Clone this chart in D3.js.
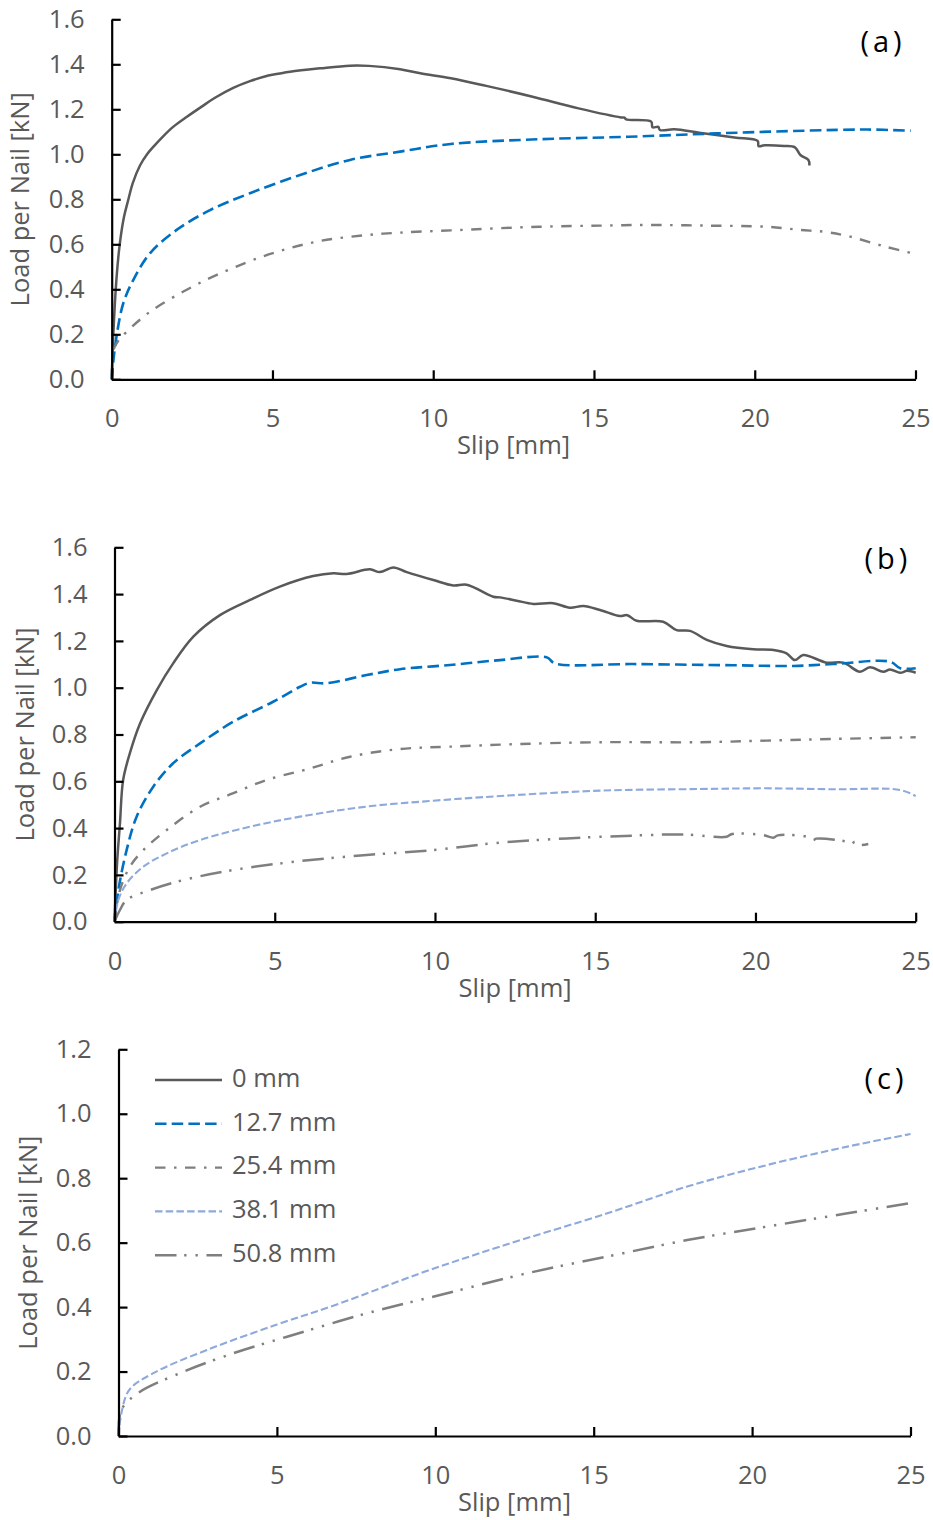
<!DOCTYPE html>
<html>
<head>
<meta charset="utf-8">
<script src="https://cdn.jsdelivr.net/npm/d3@7"></script>
<style>
  html, body { margin: 0; padding: 0; background: #fff; }
  svg { display: block; }
  text { font-family: "Open Sans", "Noto Sans", sans-serif; }
</style>
</head>
<body>
<svg id="chart" width="933" height="1520"></svg>
<script>
// ---- Load–slip curves (slip in mm, load per nail in kN) ----
const seriesNames = ["0 mm", "12.7 mm", "25.4 mm", "38.1 mm", "50.8 mm"];
const xTicks = [0, 5, 10, 15, 20, 25];
const yTicksAB = [0, 0.2, 0.4, 0.6, 0.8, 1.0, 1.2, 1.4, 1.6];
const yTicksC = [0, 0.2, 0.4, 0.6, 0.8, 1.0, 1.2];
const panelLabels = ["(a)", "(b)", "(c)"];

// Panel (a)
const a_0mm = [[0,0],[0.05,0.2],[0.15,0.45],[0.25,0.6],[0.38,0.72],[0.52,0.8],[0.65,0.87],[0.88,0.95],[1.1,1.0],[1.3,1.034],[1.6,1.08],[1.92,1.123],[2.34,1.167],[2.8,1.212],[3.2,1.25],[3.78,1.295],[4.3,1.325],[4.82,1.348],[4.95,1.352],[5.55,1.367],[6.48,1.382],[7.41,1.394],[8.0,1.393],[8.97,1.378],[9.6,1.36],[10.55,1.338],[11.65,1.304],[13.09,1.256],[14.52,1.204],[15.84,1.164],[15.95,1.163],[16.0,1.155],[16.78,1.145],[16.82,1.12],[17.0,1.122],[17.05,1.108],[17.5,1.111],[18.27,1.096],[19.37,1.075],[20.09,1.06],[20.12,1.036],[20.3,1.04],[20.92,1.037],[21.25,1.031],[21.42,0.997],[21.67,0.975],[21.7,0.95]];
const a_12_7mm = [[0,0],[0.05,0.08],[0.16,0.2],[0.36,0.338],[0.67,0.441],[1.19,0.56],[2.02,0.664],[3.06,0.752],[4.3,0.827],[5.86,0.908],[7.41,0.975],[8.97,1.012],[10.55,1.046],[13.31,1.067],[16.07,1.078],[18.83,1.093],[21.58,1.105],[23.5,1.11],[24.85,1.105]];
const a_25_4mm = [[0,0],[0.05,0.13],[0.2,0.17],[0.47,0.212],[1.19,0.3],[2.23,0.39],[3.27,0.464],[4.82,0.552],[6.38,0.612],[7.93,0.641],[8.97,0.652],[10.55,0.662],[13.31,0.678],[15.19,0.683],[16.62,0.686],[18.5,0.683],[20.37,0.678],[21.41,0.664],[22.2,0.655],[22.97,0.634],[24.0,0.592],[25,0.557]];

// Panel (b)
const b_0mm = [[0,0],[0.08,0.25],[0.17,0.42],[0.27,0.606],[0.48,0.72],[0.8,0.848],[1.32,0.99],[1.83,1.104],[2.46,1.218],[3.29,1.31],[4.23,1.375],[5.16,1.432],[6.2,1.477],[6.83,1.489],[7.24,1.486],[7.97,1.506],[8.28,1.494],[8.7,1.514],[9.12,1.494],[9.95,1.46],[10.57,1.437],[10.99,1.44],[11.82,1.389],[12.03,1.386],[12.55,1.372],[13.07,1.358],[13.69,1.361],[14.21,1.342],[14.63,1.349],[15.15,1.332],[15.77,1.306],[16.0,1.31],[16.29,1.286],[17.12,1.282],[17.54,1.246],[17.96,1.243],[18.48,1.204],[19.1,1.178],[19.93,1.164],[20.56,1.161],[20.97,1.147],[21.23,1.118],[21.49,1.14],[22.22,1.107],[22.74,1.107],[23.26,1.068],[23.57,1.087],[23.99,1.068],[24.2,1.078],[24.52,1.064],[24.73,1.072],[25,1.064]];
const b_12_7mm = [[0,0],[0.12,0.135],[0.38,0.307],[0.69,0.449],[1.21,0.577],[1.83,0.677],[2.67,0.762],[3.71,0.855],[4.95,0.94],[5.79,1.004],[6.1,1.021],[6.62,1.019],[7.87,1.054],[8.91,1.079],[10.47,1.097],[12.03,1.118],[13.48,1.13],[13.74,1.104],[16.19,1.101],[19.3,1.096],[21.18,1.093],[22.43,1.101],[24.2,1.111],[24.52,1.083],[25,1.083]];
const b_25_4mm = [[0,0],[0.17,0.135],[0.48,0.235],[0.9,0.306],[1.63,0.392],[2.67,0.491],[3.71,0.549],[4.75,0.606],[6.0,0.651],[7.35,0.705],[8.91,0.738],[10.47,0.748],[12.55,0.759],[15.15,0.767],[18.27,0.767],[20.35,0.774],[22.43,0.781],[25,0.788]];
const b_38_1mm = [[0,0],[0.12,0.093],[0.38,0.164],[0.9,0.235],[1.63,0.292],[2.67,0.349],[4.23,0.406],[5.79,0.449],[7.87,0.492],[9.95,0.517],[12.03,0.537],[15.15,0.56],[18.27,0.567],[20.35,0.57],[22.43,0.566],[24.52,0.563],[25,0.537]];
const b_50_8mm = [[0,0],[0.17,0.05],[0.38,0.093],[1.11,0.135],[2.15,0.178],[3.71,0.221],[5.79,0.259],[7.87,0.285],[9.95,0.306],[12.03,0.338],[14.11,0.356],[16.19,0.368],[17.75,0.373],[19.1,0.363],[19.27,0.375],[20.24,0.37],[20.56,0.359],[20.7,0.369],[21.6,0.363],[21.8,0.349],[21.9,0.355],[22.85,0.342],[23.0,0.332],[23.1,0.342],[23.2,0.328],[23.52,0.332]];

// Panel (c)
const c_38_1mm = [[0,0],[0.09,0.07],[0.34,0.143],[1.1,0.195],[2.79,0.267],[4.98,0.345],[7.0,0.412],[9.53,0.505],[12.05,0.588],[15.43,0.691],[17.95,0.774],[20.48,0.841],[23.01,0.898],[25,0.937]];
const c_50_8mm = [[0,0],[0.09,0.081],[0.6,0.132],[1.94,0.195],[3.63,0.257],[5.32,0.308],[7.85,0.381],[10.37,0.443],[12.9,0.505],[15.43,0.557],[17.95,0.608],[20.48,0.65],[23.01,0.691],[24.95,0.722]];

// ---- Line styles per series ----
const styles = {
  "0 mm":    { color: "#595959", width: 2.5, dash: null },
  "12.7 mm": { color: "#0070C0", width: 2.6, dash: "11.5,5.2" },
  "25.4 mm": { color: "#7F7F7F", width: 2.4, dash: "10.5,8.5,2.5,8.5" },
  "38.1 mm": { color: "#8EA9DB", width: 2.1, dash: "7.5,3.2" },
  "50.8 mm": { color: "#7F7F7F", width: 2.5, dash: "21.5,7.7,2.3,9,2.3,8.7" }
};

const panels = [
  { label: panelLabels[0], x0: 111.7, x1: 915.5, yBottom: 379.3, yTop: 19.3, yMax: 1.6, yTicks: yTicksAB,
    yTitleX: 22, labelPos: [883, 44],
    series: [["0 mm", a_0mm], ["12.7 mm", a_12_7mm], ["25.4 mm", a_25_4mm]] },
  { label: panelLabels[1], x0: 114.5, x1: 915.7, yBottom: 921.7, yTop: 547.3, yMax: 1.6, yTicks: yTicksAB,
    yTitleX: 27, labelPos: [888, 561],
    series: [["0 mm", b_0mm], ["12.7 mm", b_12_7mm], ["25.4 mm", b_25_4mm], ["38.1 mm", b_38_1mm], ["50.8 mm", b_50_8mm]] },
  { label: panelLabels[2], x0: 118.5, x1: 910.5, yBottom: 1436, yTop: 1049.3, yMax: 1.2, yTicks: yTicksC,
    yTitleX: 30, labelPos: [886, 1081],
    series: [["38.1 mm", c_38_1mm], ["50.8 mm", c_50_8mm]], legend: true }
];

const svg = d3.select("#chart");
const textColor = "#595959";
const fontSize = "25.5px";

panels.forEach(p => {
  const x = d3.scaleLinear().domain([0, 25]).range([p.x0, p.x1]);
  const y = d3.scaleLinear().domain([0, p.yMax]).range([p.yBottom, p.yTop]);
  const g = svg.append("g");

  // curves
  const line = d3.line().x(d => x(d[0])).y(d => y(d[1])).curve(d3.curveCatmullRom.alpha(0.5));
  p.series.forEach(([name, data]) => {
    const s = styles[name];
    g.append("path")
      .datum(data)
      .attr("d", line)
      .attr("fill", "none")
      .attr("stroke", s.color)
      .attr("stroke-width", s.width)
      .attr("stroke-dasharray", s.dash)
      .attr("stroke-linejoin", "round");
  });

  // axes, ticks pointing into the plot
  const xAxis = d3.axisBottom(x).tickValues(xTicks).tickFormat(d3.format("d"))
    .tickSizeInner(-9).tickSizeOuter(0).tickPadding(30);
  const yAxis = d3.axisLeft(y).tickValues(p.yTicks).tickFormat(d3.format(".1f"))
    .tickSizeInner(-9).tickSizeOuter(0).tickPadding(27);

  const gx = g.append("g").attr("transform", `translate(0,${p.yBottom})`).call(xAxis);
  const gy = g.append("g").attr("transform", `translate(${p.x0},0)`).call(yAxis);
  [gx, gy].forEach(a => {
    a.select(".domain").attr("stroke", "#000").attr("stroke-width", 2.2);
    a.selectAll(".tick line").attr("stroke", "#000").attr("stroke-width", 2.2);
    a.selectAll(".tick text").attr("fill", textColor).style("font-size", fontSize)
      .style("font-family", "\"Open Sans\", sans-serif");
  });
  gx.selectAll(".tick text").attr("dy", "0.71em");

  // axis titles
  g.append("text")
    .attr("x", (p.x0 + p.x1) / 2)
    .attr("y", p.yBottom + 68)
    .attr("text-anchor", "middle")
    .attr("dominant-baseline", "middle")
    .attr("fill", textColor)
    .style("font-size", fontSize)
    .text("Slip [mm]");
  g.append("text")
    .attr("transform", `translate(${p.yTitleX},${(p.yBottom + p.yTop) / 2}) rotate(-90)`)
    .attr("text-anchor", "middle")
    .attr("dominant-baseline", "middle")
    .attr("fill", textColor)
    .style("font-size", fontSize)
    .text("Load per Nail [kN]");

  // panel label
  g.append("text")
    .attr("x", p.labelPos[0])
    .attr("y", p.labelPos[1])
    .attr("text-anchor", "middle")
    .attr("dominant-baseline", "middle")
    .attr("fill", "#000")
    .style("font-size", "29px")
    .style("letter-spacing", "4px")
    .text(p.label);

  // legend
  if (p.legend) {
    const lg = g.append("g");
    seriesNames.forEach((name, i) => {
      const s = styles[name];
      const yy = 1080 + i * 43.8;
      lg.append("line")
        .attr("x1", 155).attr("x2", 222).attr("y1", yy).attr("y2", yy)
        .attr("stroke", s.color).attr("stroke-width", s.width)
        .attr("stroke-dasharray", s.dash);
      lg.append("text")
        .attr("x", 232).attr("y", yy)
        .attr("dominant-baseline", "middle")
        .attr("fill", textColor)
        .style("font-size", fontSize)
        .text(name);
    });
  }
});
</script>
</body>
</html>
